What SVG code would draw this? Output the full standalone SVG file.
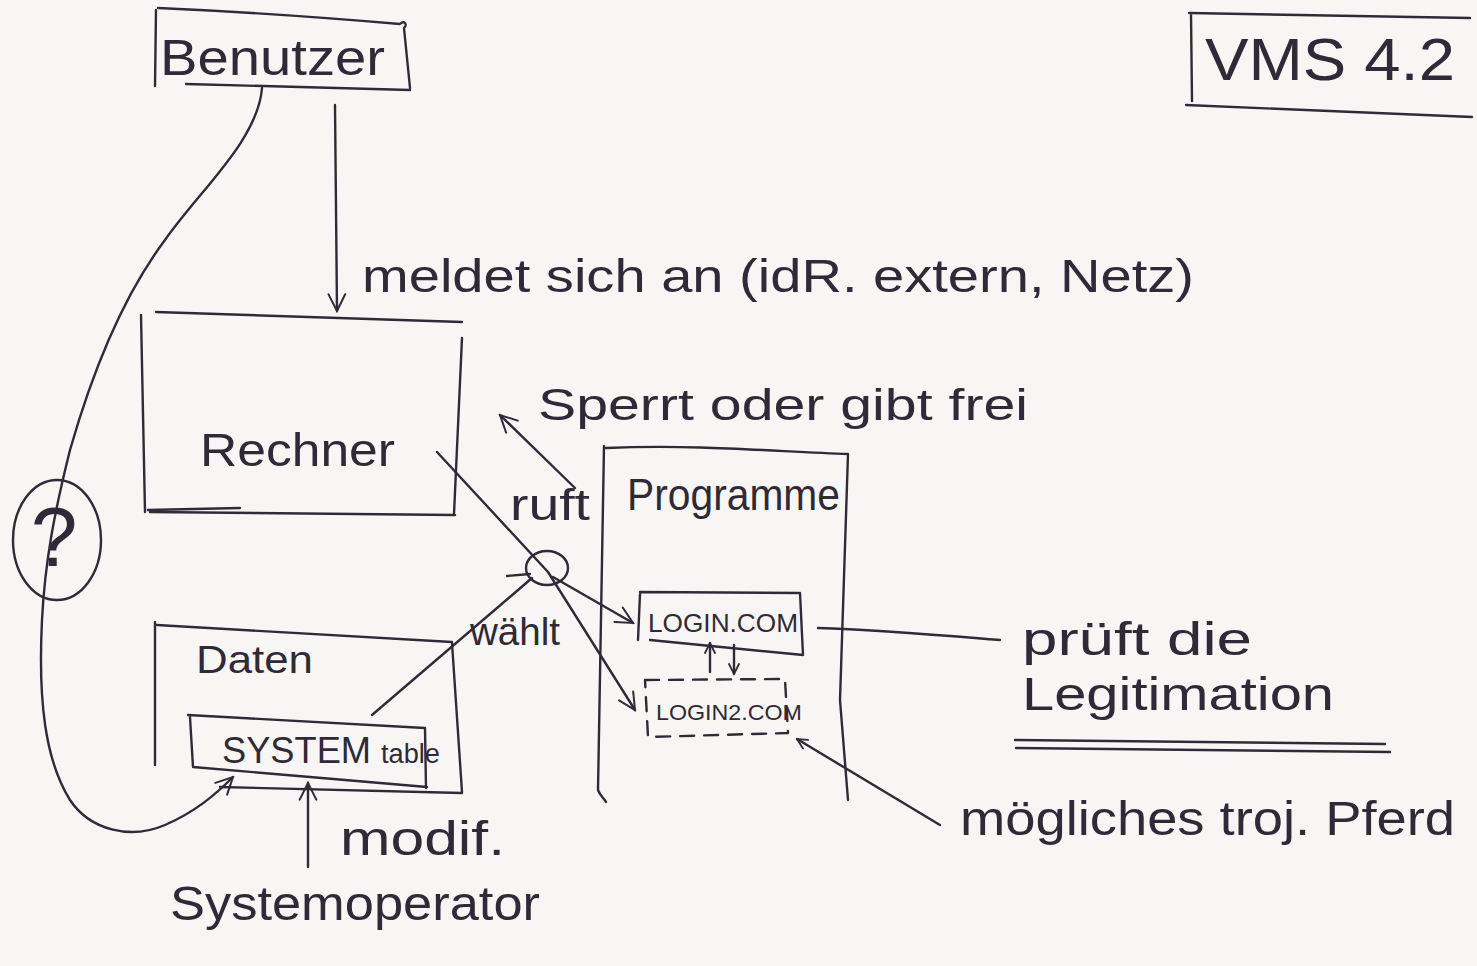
<svg xmlns="http://www.w3.org/2000/svg" width="1477" height="966" viewBox="0 0 1477 966">
<defs>
<style>
.ln{fill:none;stroke:#2f2a35;stroke-width:2.4;stroke-linecap:round;stroke-linejoin:round}
.dash{stroke-dasharray:14 10}
.t{font-family:"Liberation Sans",Arial,sans-serif;fill:#2f2a35}
</style>
<marker id="ah" viewBox="0 0 12 12" refX="11" refY="6" markerWidth="12" markerHeight="12" markerUnits="userSpaceOnUse" orient="auto">
<path d="M1,1 L11,6 L1,11" fill="none" stroke="#2f2a35" stroke-width="1.8" stroke-linecap="round"/>
</marker>
<marker id="ahL" viewBox="0 0 12 12" refX="11" refY="6" markerWidth="20" markerHeight="20" markerUnits="userSpaceOnUse" orient="auto">
<path d="M1,1 L11,6 L1,11" fill="none" stroke="#2f2a35" stroke-width="1.2" stroke-linecap="round"/>
</marker>
</defs>
<rect width="1477" height="966" fill="#f8f6f4"/>

<g id="node-benutzer">
<path class="ln" d="M156,10 L155,86 M158,8 C250,12 330,18 400,24 C404,20 408,24 404,28 L410,88 M186,84 L410,90"/>
<text class="t" x="160" y="75" font-size="50" textLength="225" lengthAdjust="spacingAndGlyphs">Benutzer</text>
</g>

<g id="node-vms">
<path class="ln" d="M1189,13 L1470,18 M1191,14 L1192,101 M1186,105 L1472,117"/>
<text class="t" x="1205" y="80" font-size="60" textLength="250" lengthAdjust="spacingAndGlyphs">VMS 4.2</text>
</g>

<g id="node-rechner">
<path class="ln" d="M156,312 L462,322 M141,315 L145,512 M462,338 L454,514 M148,510 L240,508 M150,512 L455,515"/>
<text class="t" x="200" y="466" font-size="46" textLength="195" lengthAdjust="spacingAndGlyphs">Rechner</text>
</g>

<g id="node-programme">
<path class="ln" d="M606,448 C700,444 780,452 848,454 M604,446 L598,790 C600,796 604,798 606,802 M848,454 L840,700 L848,800"/>
<text class="t" x="627" y="510" font-size="44" textLength="213" lengthAdjust="spacingAndGlyphs">Programme</text>
</g>

<g id="node-login">
<path class="ln" d="M640,592 L800,593 L803,655 L650,640 M640,594 L638,640"/>
<text class="t" x="648" y="632" font-size="26" textLength="150" lengthAdjust="spacingAndGlyphs">LOGIN.COM</text>
</g>

<g id="node-login2">
<path class="ln dash" d="M645,680 L785,679 L788,733 L648,737 Z"/>
<text class="t" x="656" y="720" font-size="22" textLength="146" lengthAdjust="spacingAndGlyphs">LOGIN2.COM</text>
</g>

<g id="node-daten">
<path class="ln" d="M157,625 L452,642 M155,622 L155,765 M452,643 L462,792 M220,787 L462,793"/>
<text class="t" x="196" y="673" font-size="38" textLength="117" lengthAdjust="spacingAndGlyphs">Daten</text>
</g>

<g id="node-systemtable">
<path class="ln" d="M188,715 L425,728 L426,788 M190,717 L193,767 C260,772 360,782 427,787"/>
<text class="t" x="222" y="763" font-size="36" textLength="218" lengthAdjust="spacingAndGlyphs">SYSTEM <tspan font-size="27">table</tspan></text>
</g>

<g id="node-question">
<ellipse class="ln" cx="57" cy="540" rx="44" ry="60"/>
<text class="t" x="54" y="566" font-size="84" text-anchor="middle">?</text>
</g>

<g id="node-junction">
<ellipse class="ln" cx="547" cy="568" rx="21" ry="17"/>
</g>

<g id="label-systemoperator">
<text class="t" x="170" y="920" font-size="48" textLength="370" lengthAdjust="spacingAndGlyphs">Systemoperator</text>
</g>

<g id="label-pruft">
<text class="t" x="1022" y="655" font-size="46" textLength="230" lengthAdjust="spacingAndGlyphs">prüft die</text>
<text class="t" x="1022" y="710" font-size="46" textLength="312" lengthAdjust="spacingAndGlyphs">Legitimation</text>
<path class="ln" d="M1015,740 L1385,744 M1016,748 L1390,752"/>
</g>

<g id="label-trojan">
<text class="t" x="960" y="835" font-size="48" textLength="495" lengthAdjust="spacingAndGlyphs">mögliches troj. Pferd</text>
</g>

<g id="connectors">
<path class="ln" d="M335,105 L337,311" marker-end="url(#ahL)"/>
<text class="t" x="362" y="292" font-size="46" textLength="832" lengthAdjust="spacingAndGlyphs">meldet sich an (idR. extern, Netz)</text>

<path class="ln" d="M262,88 C258,140 200,190 165,240 C120,300 90,380 70,450 C55,510 45,560 42,620 C38,700 45,760 70,800 C90,830 130,840 165,825 C195,812 215,795 233,777" marker-end="url(#ahL)"/>

<path class="ln" d="M575,488 L500,415" marker-end="url(#ahL)"/>
<text class="t" x="538" y="420" font-size="44" textLength="490" lengthAdjust="spacingAndGlyphs">Sperrt oder gibt frei</text>
<text class="t" x="510" y="520" font-size="44" textLength="80" lengthAdjust="spacingAndGlyphs">ruft</text>

<path class="ln" d="M437,452 L548,572 L635,710" marker-end="url(#ahL)"/>
<path class="ln" d="M553,577 L633,623" marker-end="url(#ahL)"/>
<path class="ln" d="M372,715 L532,578 M507,576 L530,574"/>
<text class="t" x="470" y="645" font-size="38" textLength="90" lengthAdjust="spacingAndGlyphs">wählt</text>

<path class="ln" d="M710,672 L710,643" marker-end="url(#ah)"/>
<path class="ln" d="M734,645 L734,674" marker-end="url(#ah)"/>

<path class="ln" d="M818,628 C880,630 950,636 1000,640"/>
<path class="ln" d="M940,825 L797,739" marker-end="url(#ah)"/>

<path class="ln" d="M308,867 L308,783" marker-end="url(#ahL)"/>
<text class="t" x="340" y="855" font-size="48" textLength="165" lengthAdjust="spacingAndGlyphs">modif.</text>
</g>
</svg>
